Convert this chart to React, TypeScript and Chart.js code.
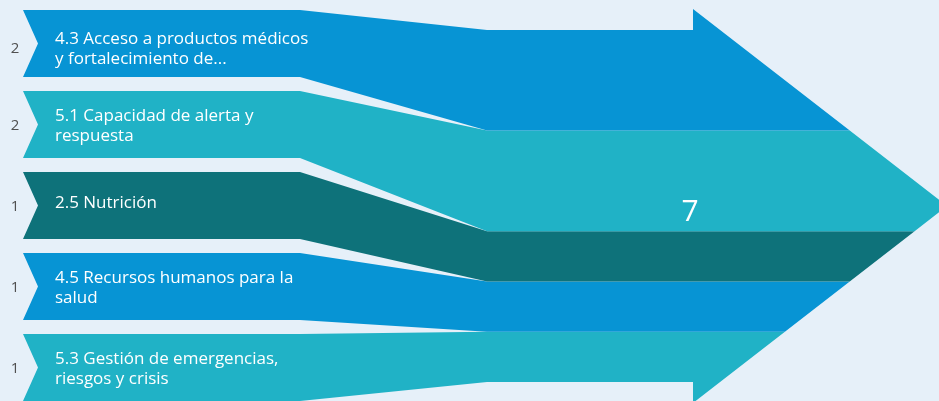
import React, { useEffect, useRef } from "react";
import { Chart, registerables } from "chart.js";

Chart.register(...registerables);

// ---- data ----
const CATEGORY_LINES: string[][] = [
  ["4.3 Acceso a productos médicos", "y fortalecimiento de..."],
  ["5.1 Capacidad de alerta y", "respuesta"],
  ["2.5 Nutrición"],
  ["4.5 Recursos humanos para la", "salud"],
  ["5.3 Gestión de emergencias,", "riesgos y crisis"],
];
const VALUES: number[] = [2, 2, 1, 1, 1];
const TOTAL_LABEL = String(VALUES.reduce((a, b) => a + b, 0));

// ---- styles ----
const COLORS = ["#0794d4", "#20b2c6", "#0e727a", "#0794d4", "#20b2c6"];
const BG = "#e6f0f9";
const FONT = "'Open Sans', 'Noto Sans', sans-serif";

// ---- layout (in scale units == pixels) ----
const W = 939;
const H = 401;
const LEFT_X = 23;
const NOTCH = 15;
const BAND_TOP0 = 10;
const BAND_STEP = 81;
const BAND_H = 67;
const FLAT_END = 300;
const MERGE_X = 487;
const BODY_END = 693;
const BODY_TOP = 30;
const BODY_BOTTOM = 382;
const HEAD_TOP = 9;
const HEAD_BOTTOM = 403;
const TIP_X = 947;
const LABEL_NUDGE = [4, 0, 0, 0, 0];

const TIP_Y = (HEAD_TOP + HEAD_BOTTOM) / 2;
const headX = (y: number) =>
  y <= TIP_Y
    ? BODY_END + ((y - HEAD_TOP) * (TIP_X - BODY_END)) / (TIP_Y - HEAD_TOP)
    : BODY_END + ((HEAD_BOTTOM - y) * (TIP_X - BODY_END)) / (HEAD_BOTTOM - TIP_Y);

function bandPolygon(i: number) {
  const total = VALUES.reduce((a, b) => a + b, 0);
  const unit = (BODY_BOTTOM - BODY_TOP) / total;
  const cum = VALUES.slice(0, i).reduce((a, b) => a + b, 0);
  const lt = BAND_TOP0 + i * BAND_STEP;
  const lb = lt + BAND_H;
  const rt = BODY_TOP + cum * unit;
  const rb = rt + VALUES[i] * unit;
  const last = i === VALUES.length - 1;
  const pts: { x: number; y: number }[] = [];
  pts.push({ x: LEFT_X, y: lt });
  pts.push({ x: FLAT_END, y: lt });
  pts.push({ x: MERGE_X, y: rt });
  pts.push({ x: BODY_END, y: rt });
  const topY = i === 0 ? HEAD_TOP : rt;
  const botY = last ? HEAD_BOTTOM : rb;
  if (i === 0) pts.push({ x: BODY_END, y: HEAD_TOP });
  pts.push({ x: headX(topY), y: topY });
  if (topY < TIP_Y && botY > TIP_Y) pts.push({ x: TIP_X, y: TIP_Y });
  pts.push({ x: headX(botY), y: botY });
  if (last) pts.push({ x: BODY_END, y: HEAD_BOTTOM });
  pts.push({ x: BODY_END, y: rb });
  pts.push({ x: MERGE_X, y: rb });
  pts.push({ x: FLAT_END, y: lb });
  pts.push({ x: LEFT_X, y: lb });
  pts.push({ x: LEFT_X + NOTCH, y: (lt + lb) / 2 });
  pts.push({ x: LEFT_X, y: lt });
  return pts;
}

const bgPlugin = {
  id: "bg",
  beforeDraw(chart: any) {
    const { ctx } = chart;
    ctx.save();
    ctx.fillStyle = BG;
    ctx.fillRect(0, 0, chart.width, chart.height);
    ctx.restore();
  },
};

const labelPlugin = {
  id: "labels",
  afterDatasetsDraw(chart: any) {
    const { ctx } = chart;
    const xs = chart.scales.x;
    const ys = chart.scales.y;
    ctx.save();
    CATEGORY_LINES.forEach((lines, i) => {
      const lt = BAND_TOP0 + i * BAND_STEP;
      const c = lt + BAND_H / 2 + LABEL_NUDGE[i];
      // value on the left
      ctx.fillStyle = "#505050";
      ctx.font = `15px ${FONT}`;
      ctx.textAlign = "center";
      ctx.textBaseline = "alphabetic";
      ctx.fillText(String(VALUES[i]), xs.getPixelForValue(15), ys.getPixelForValue(c + 5.5));
      // category text
      ctx.fillStyle = "#ffffff";
      ctx.font = `17px ${FONT}`;
      ctx.textAlign = "left";
      if (lines.length === 1) {
        ctx.fillText(lines[0], xs.getPixelForValue(55), ys.getPixelForValue(c + 2.5));
      } else {
        ctx.fillText(lines[0], xs.getPixelForValue(55), ys.getPixelForValue(c - 4));
        ctx.fillText(lines[1], xs.getPixelForValue(55), ys.getPixelForValue(c + 16.5));
      }
    });
    ctx.fillStyle = "#ffffff";
    ctx.font = `30px ${FONT}`;
    ctx.textAlign = "center";
    ctx.textBaseline = "alphabetic";
    ctx.fillText(TOTAL_LABEL, xs.getPixelForValue(690), ys.getPixelForValue(221));
    ctx.restore();
  },
};

export default function App() {
  const ref = useRef<HTMLCanvasElement | null>(null);
  useEffect(() => {
    document.body.style.margin = "0";
    const canvas = ref.current;
    if (!canvas) return;
    const chart = new Chart(canvas, {
      type: "scatter",
      data: {
        datasets: VALUES.map((v, i) => ({
          label: CATEGORY_LINES[i].join(" "),
          data: bandPolygon(i),
          showLine: true,
          fill: "shape",
          backgroundColor: COLORS[i],
          borderColor: "rgba(0,0,0,0)",
          borderWidth: 0,
          pointRadius: 0,
          pointHoverRadius: 0,
          tension: 0,
        })),
      },
      options: {
        responsive: false,
        animation: false,
        events: [],
        layout: { padding: 0 },
        scales: {
          x: { type: "linear", min: 0, max: W, display: false },
          y: { type: "linear", min: 0, max: H, reverse: true, display: false },
        },
        plugins: {
          legend: { display: false },
          tooltip: { enabled: false },
        },
      } as any,
      plugins: [bgPlugin, labelPlugin],
    });
    return () => chart.destroy();
  }, []);
  return (
    <div style={{ width: W, height: H }}>
      <canvas ref={ref} width={W} height={H} style={{ display: "block" }} />
    </div>
  );
}
